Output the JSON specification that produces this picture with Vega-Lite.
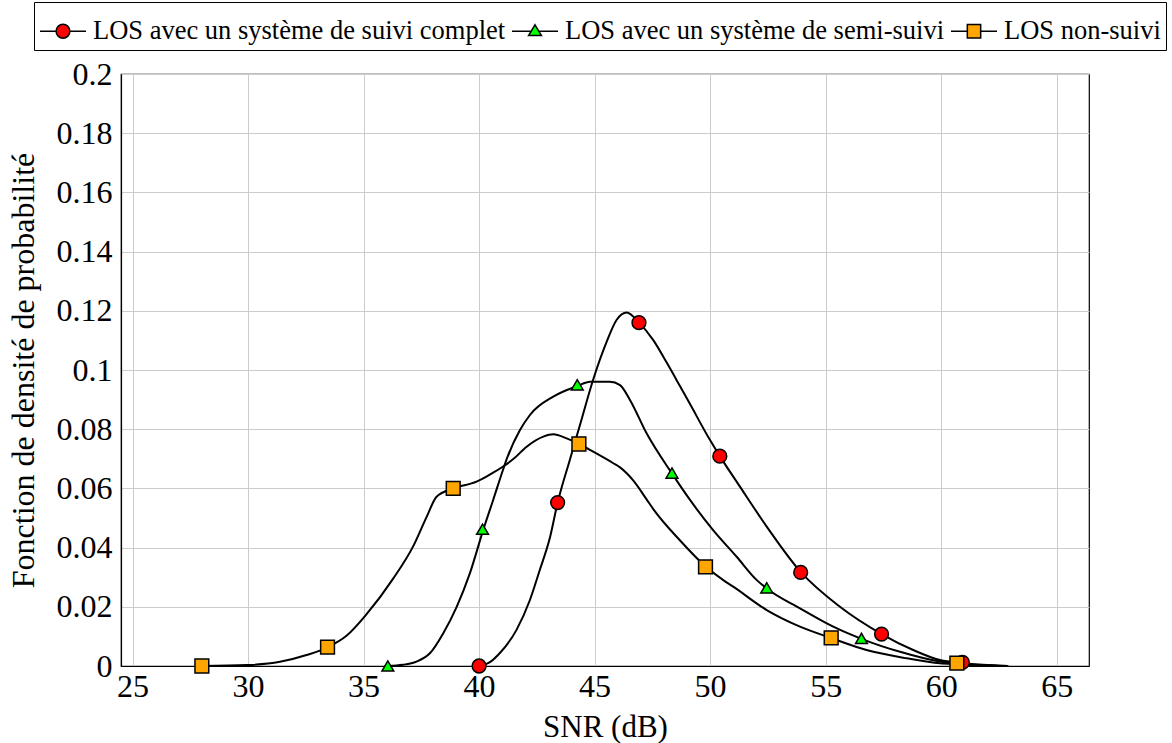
{
  "$schema": "https://vega.github.io/schema/vega-lite/v6.json",
  "width": 968,
  "height": 592,
  "autosize": {"type": "none"},
  "padding": {"left": 121, "top": 74, "right": 83, "bottom": 77},
  "background": "white",
  "config": {
    "font": "Liberation Serif",
    "view": {"stroke": "black", "strokeWidth": 1.2},
    "axis": {
      "labelFont": "Liberation Serif",
      "titleFont": "Liberation Serif",
      "labelFontSize": 32,
      "titleFontSize": 31,
      "labelColor": "black",
      "titleColor": "black",
      "titleFontWeight": "normal",
      "gridColor": "#cccccc",
      "gridWidth": 1,
      "domainColor": "black",
      "domainWidth": 1.2,
      "ticks": false
    },
    "legend": {
      "labelFont": "Liberation Serif",
      "labelFontSize": 26.5,
      "labelColor": "black",
      "labelLimit": 0
    }
  },
  "datasets": {
    "curves": [
      {"series": "LOS avec un système de suivi complet", "snr": 40.0, "pdf": 0.0},
      {"series": "LOS avec un système de suivi complet", "snr": 40.45, "pdf": 0.0012},
      {"series": "LOS avec un système de suivi complet", "snr": 40.9, "pdf": 0.0044},
      {"series": "LOS avec un système de suivi complet", "snr": 41.62, "pdf": 0.0122},
      {"series": "LOS avec un système de suivi complet", "snr": 42.2, "pdf": 0.0223},
      {"series": "LOS avec un système de suivi complet", "snr": 42.63, "pdf": 0.0325},
      {"series": "LOS avec un système de suivi complet", "snr": 43.07, "pdf": 0.0435},
      {"series": "LOS avec un système de suivi complet", "snr": 43.4, "pdf": 0.0552},
      {"series": "LOS avec un système de suivi complet", "snr": 43.93, "pdf": 0.0697},
      {"series": "LOS avec un système de suivi complet", "snr": 44.37, "pdf": 0.0815},
      {"series": "LOS avec un système de suivi complet", "snr": 44.94, "pdf": 0.0968},
      {"series": "LOS avec un système de suivi complet", "snr": 45.52, "pdf": 0.1095},
      {"series": "LOS avec un système de suivi complet", "snr": 45.95, "pdf": 0.1169},
      {"series": "LOS avec un système de suivi complet", "snr": 46.39, "pdf": 0.1194},
      {"series": "LOS avec un système de suivi complet", "snr": 46.92, "pdf": 0.116},
      {"series": "LOS avec un système de suivi complet", "snr": 47.54, "pdf": 0.1101},
      {"series": "LOS avec un système de suivi complet", "snr": 48.12, "pdf": 0.1025},
      {"series": "LOS avec un système de suivi complet", "snr": 48.7, "pdf": 0.0945},
      {"series": "LOS avec un système de suivi complet", "snr": 49.13, "pdf": 0.0885},
      {"series": "LOS avec un système de suivi complet", "snr": 49.99, "pdf": 0.0764},
      {"series": "LOS avec un système de suivi complet", "snr": 50.42, "pdf": 0.0709},
      {"series": "LOS avec un système de suivi complet", "snr": 51.29, "pdf": 0.0606},
      {"series": "LOS avec un système de suivi complet", "snr": 52.45, "pdf": 0.0471},
      {"series": "LOS avec un système de suivi complet", "snr": 53.93, "pdf": 0.0317},
      {"series": "LOS avec un système de suivi complet", "snr": 55.62, "pdf": 0.02},
      {"series": "LOS avec un système de suivi complet", "snr": 57.42, "pdf": 0.0108},
      {"series": "LOS avec un système de suivi complet", "snr": 58.79, "pdf": 0.0054},
      {"series": "LOS avec un système de suivi complet", "snr": 59.95, "pdf": 0.002},
      {"series": "LOS avec un système de suivi complet", "snr": 60.9, "pdf": 0.001},
      {"series": "LOS avec un système de suivi complet", "snr": 61.8, "pdf": 0.0004},
      {"series": "LOS avec un système de suivi complet", "snr": 62.9, "pdf": 0.0},
      {"series": "LOS avec un système de semi-suivi", "snr": 36.05, "pdf": 0.0},
      {"series": "LOS avec un système de semi-suivi", "snr": 36.7, "pdf": 0.0004},
      {"series": "LOS avec un système de semi-suivi", "snr": 37.29, "pdf": 0.0015},
      {"series": "LOS avec un système de semi-suivi", "snr": 37.87, "pdf": 0.0043},
      {"series": "LOS avec un système de semi-suivi", "snr": 38.45, "pdf": 0.0111},
      {"series": "LOS avec un système de semi-suivi", "snr": 39.03, "pdf": 0.02},
      {"series": "LOS avec un système de semi-suivi", "snr": 39.6, "pdf": 0.0313},
      {"series": "LOS avec un système de semi-suivi", "snr": 40.18, "pdf": 0.046},
      {"series": "LOS avec un système de semi-suivi", "snr": 40.61, "pdf": 0.0561},
      {"series": "LOS avec un système de semi-suivi", "snr": 41.04, "pdf": 0.0664},
      {"series": "LOS avec un système de semi-suivi", "snr": 41.19, "pdf": 0.0698},
      {"series": "LOS avec un système de semi-suivi", "snr": 41.77, "pdf": 0.0797},
      {"series": "LOS avec un système de semi-suivi", "snr": 42.2, "pdf": 0.0848},
      {"series": "LOS avec un système de semi-suivi", "snr": 43.21, "pdf": 0.091},
      {"series": "LOS avec un système de semi-suivi", "snr": 44.26, "pdf": 0.0946},
      {"series": "LOS avec un système de semi-suivi", "snr": 44.8, "pdf": 0.096},
      {"series": "LOS avec un système de semi-suivi", "snr": 45.66, "pdf": 0.096},
      {"series": "LOS avec un système de semi-suivi", "snr": 46.1, "pdf": 0.0949},
      {"series": "LOS avec un système de semi-suivi", "snr": 46.53, "pdf": 0.0899},
      {"series": "LOS avec un système de semi-suivi", "snr": 47.25, "pdf": 0.0786},
      {"series": "LOS avec un système de semi-suivi", "snr": 48.36, "pdf": 0.0649},
      {"series": "LOS avec un système de semi-suivi", "snr": 49.13, "pdf": 0.0561},
      {"series": "LOS avec un système de semi-suivi", "snr": 50.13, "pdf": 0.0459},
      {"series": "LOS avec un système de semi-suivi", "snr": 51.15, "pdf": 0.0369},
      {"series": "LOS avec un système de semi-suivi", "snr": 52.01, "pdf": 0.0291},
      {"series": "LOS avec un système de semi-suivi", "snr": 52.45, "pdf": 0.0262},
      {"series": "LOS avec un système de semi-suivi", "snr": 53.89, "pdf": 0.0195},
      {"series": "LOS avec un système de semi-suivi", "snr": 55.33, "pdf": 0.0133},
      {"series": "LOS avec un système de semi-suivi", "snr": 56.58, "pdf": 0.0091},
      {"series": "LOS avec un système de semi-suivi", "snr": 58.22, "pdf": 0.0048},
      {"series": "LOS avec un système de semi-suivi", "snr": 59.95, "pdf": 0.0015},
      {"series": "LOS avec un système de semi-suivi", "snr": 60.65, "pdf": 0.0008},
      {"series": "LOS avec un système de semi-suivi", "snr": 62.9, "pdf": 0.0},
      {"series": "LOS non-suivi", "snr": 28.0, "pdf": 0.0},
      {"series": "LOS non-suivi", "snr": 29.94, "pdf": 0.0003},
      {"series": "LOS non-suivi", "snr": 31.38, "pdf": 0.0014},
      {"series": "LOS non-suivi", "snr": 32.53, "pdf": 0.0037},
      {"series": "LOS non-suivi", "snr": 33.44, "pdf": 0.0063},
      {"series": "LOS non-suivi", "snr": 34.26, "pdf": 0.0102},
      {"series": "LOS non-suivi", "snr": 35.13, "pdf": 0.0175},
      {"series": "LOS non-suivi", "snr": 36.28, "pdf": 0.0295},
      {"series": "LOS non-suivi", "snr": 37.15, "pdf": 0.0405},
      {"series": "LOS non-suivi", "snr": 37.73, "pdf": 0.0504},
      {"series": "LOS non-suivi", "snr": 38.16, "pdf": 0.0572},
      {"series": "LOS non-suivi", "snr": 38.88, "pdf": 0.06},
      {"series": "LOS non-suivi", "snr": 39.89, "pdf": 0.0623},
      {"series": "LOS non-suivi", "snr": 40.32, "pdf": 0.064},
      {"series": "LOS non-suivi", "snr": 40.61, "pdf": 0.0653},
      {"series": "LOS non-suivi", "snr": 41.04, "pdf": 0.0674},
      {"series": "LOS non-suivi", "snr": 41.48, "pdf": 0.0699},
      {"series": "LOS non-suivi", "snr": 42.06, "pdf": 0.0741},
      {"series": "LOS non-suivi", "snr": 42.78, "pdf": 0.0775},
      {"series": "LOS non-suivi", "snr": 43.21, "pdf": 0.0783},
      {"series": "LOS non-suivi", "snr": 43.79, "pdf": 0.0769},
      {"series": "LOS non-suivi", "snr": 44.33, "pdf": 0.075},
      {"series": "LOS non-suivi", "snr": 44.94, "pdf": 0.0724},
      {"series": "LOS non-suivi", "snr": 45.81, "pdf": 0.0685},
      {"series": "LOS non-suivi", "snr": 46.1, "pdf": 0.0671},
      {"series": "LOS non-suivi", "snr": 46.39, "pdf": 0.0651},
      {"series": "LOS non-suivi", "snr": 46.67, "pdf": 0.0627},
      {"series": "LOS non-suivi", "snr": 47.25, "pdf": 0.0563},
      {"series": "LOS non-suivi", "snr": 47.54, "pdf": 0.053},
      {"series": "LOS non-suivi", "snr": 48.7, "pdf": 0.0424},
      {"series": "LOS non-suivi", "snr": 49.82, "pdf": 0.0335},
      {"series": "LOS non-suivi", "snr": 50.57, "pdf": 0.029},
      {"series": "LOS non-suivi", "snr": 51.0, "pdf": 0.0268},
      {"series": "LOS non-suivi", "snr": 52.45, "pdf": 0.0189},
      {"series": "LOS non-suivi", "snr": 53.89, "pdf": 0.0133},
      {"series": "LOS non-suivi", "snr": 55.26, "pdf": 0.0094},
      {"series": "LOS non-suivi", "snr": 56.77, "pdf": 0.0054},
      {"series": "LOS non-suivi", "snr": 58.51, "pdf": 0.0026},
      {"series": "LOS non-suivi", "snr": 59.95, "pdf": 0.0009},
      {"series": "LOS non-suivi", "snr": 60.7, "pdf": 0.0006},
      {"series": "LOS non-suivi", "snr": 62.9, "pdf": 0.0}
    ],
    "marks": [
      {"series": "LOS avec un système de suivi complet", "snr": 40.0, "pdf": 0.0},
      {"series": "LOS avec un système de suivi complet", "snr": 43.4, "pdf": 0.0552},
      {"series": "LOS avec un système de suivi complet", "snr": 46.92, "pdf": 0.116},
      {"series": "LOS avec un système de suivi complet", "snr": 50.42, "pdf": 0.0709},
      {"series": "LOS avec un système de suivi complet", "snr": 53.92, "pdf": 0.0316},
      {"series": "LOS avec un système de suivi complet", "snr": 57.42, "pdf": 0.0108},
      {"series": "LOS avec un système de suivi complet", "snr": 60.92, "pdf": 0.0012},
      {"series": "LOS avec un système de semi-suivi", "snr": 36.05, "pdf": 0.0},
      {"series": "LOS avec un système de semi-suivi", "snr": 40.15, "pdf": 0.0462},
      {"series": "LOS avec un système de semi-suivi", "snr": 44.25, "pdf": 0.095},
      {"series": "LOS avec un système de semi-suivi", "snr": 48.35, "pdf": 0.0652},
      {"series": "LOS avec un système de semi-suivi", "snr": 52.45, "pdf": 0.0264},
      {"series": "LOS avec un système de semi-suivi", "snr": 56.55, "pdf": 0.0093},
      {"series": "LOS avec un système de semi-suivi", "snr": 60.65, "pdf": 0.0008},
      {"series": "LOS non-suivi", "snr": 28.0, "pdf": 0.0},
      {"series": "LOS non-suivi", "snr": 33.44, "pdf": 0.0064},
      {"series": "LOS non-suivi", "snr": 38.88, "pdf": 0.06},
      {"series": "LOS non-suivi", "snr": 44.32, "pdf": 0.075},
      {"series": "LOS non-suivi", "snr": 49.8, "pdf": 0.0335},
      {"series": "LOS non-suivi", "snr": 55.24, "pdf": 0.0095},
      {"series": "LOS non-suivi", "snr": 60.68, "pdf": 0.001}
    ]
  },
  "layer": [
    {
      "data": {"name": "curves"},
      "mark": {"type": "line", "interpolate": "monotone", "color": "black", "strokeWidth": 2},
      "encoding": {
        "x": {
          "field": "snr", "type": "quantitative",
          "scale": {"domain": [24.5, 66.4], "nice": false, "zero": false},
          "axis": {"values": [25, 30, 35, 40, 45, 50, 55, 60, 65], "title": "SNR (dB)", "grid": true, "labelPadding": 5, "titlePadding": 10}
        },
        "y": {
          "field": "pdf", "type": "quantitative",
          "scale": {"domain": [0, 0.2], "nice": false},
          "axis": {"values": [0, 0.02, 0.04, 0.06, 0.08, 0.1, 0.12, 0.14, 0.16, 0.18, 0.2], "format": "~g", "title": "Fonction de densité de probabilité", "titleFontSize": 32, "grid": true, "labelPadding": 9, "titlePadding": 16}
        },
        "detail": {"field": "series", "type": "nominal"}
      }
    },
    {
      "data": {"name": "marks"},
      "transform": [{"filter": {"field": "series", "equal": "LOS avec un système de suivi complet"}}],
      "mark": {"type": "point", "shape": "circle", "size": 190, "filled": true, "stroke": "black", "strokeWidth": 1.5, "opacity": 1},
      "encoding": {
        "x": {"field": "snr", "type": "quantitative"},
        "y": {"field": "pdf", "type": "quantitative"},
        "fill": {
          "field": "series", "type": "nominal",
          "scale": {"domain": ["LOS avec un système de suivi complet", "LOS avec un système de semi-suivi", "LOS non-suivi"], "range": ["#ff0000", "#00ff00", "#ffa500"]},
          "legend": {
            "orient": "none",
            "legendX": -87,
            "legendY": -72,
            "direction": "horizontal",
            "title": null,
            "strokeColor": "black",
            "fillColor": "white",
            "padding": 5,
            "labelFont": "Liberation Serif",
            "labelFontSize": 26.5,
            "labelColor": "black",
            "labelLimit": 0,
            "symbolSize": 2116,
            "symbolStrokeColor": "black",
            "symbolStrokeWidth": 1.5,
            "symbolOpacity": 1,
            "columnPadding": 3,
            "labelOffset": 6,
            "values": ["LOS avec un système de suivi complet", "LOS avec un système de semi-suivi", "LOS non-suivi"],
            "encode": {
              "symbols": {
                "update": {
                  "shape": {"signal": "datum.value === 'LOS avec un système de suivi complet' ? 'M-1,0H-0.3M0.3,0H1M-0.3,0A0.3,0.3,0,1,1,0.3,0A0.3,0.3,0,1,1,-0.3,0Z' : (datum.value === 'LOS avec un système de semi-suivi' ? 'M-1,0H-0.17M0.17,0H1M0,-0.28L0.28,0.19H-0.28Z' : 'M-1,0H-0.29M0.29,0H1M-0.29,-0.29H0.29V0.29H-0.29Z')"}
                }
              }
            }
          }
        }
      }
    },
    {
      "data": {"name": "marks"},
      "transform": [{"filter": {"field": "series", "equal": "LOS avec un système de semi-suivi"}}],
      "mark": {"type": "point", "shape": "triangle-up", "size": 140, "filled": true, "stroke": "black", "strokeWidth": 1.5, "opacity": 1},
      "encoding": {
        "x": {"field": "snr", "type": "quantitative"},
        "y": {"field": "pdf", "type": "quantitative"},
        "fill": {"field": "series", "type": "nominal"}
      }
    },
    {
      "data": {"name": "marks"},
      "transform": [{"filter": {"field": "series", "equal": "LOS non-suivi"}}],
      "mark": {"type": "point", "shape": "square", "size": 190, "filled": true, "stroke": "black", "strokeWidth": 1.5, "opacity": 1},
      "encoding": {
        "x": {"field": "snr", "type": "quantitative"},
        "y": {"field": "pdf", "type": "quantitative"},
        "fill": {"field": "series", "type": "nominal"}
      }
    }
  ]
}
